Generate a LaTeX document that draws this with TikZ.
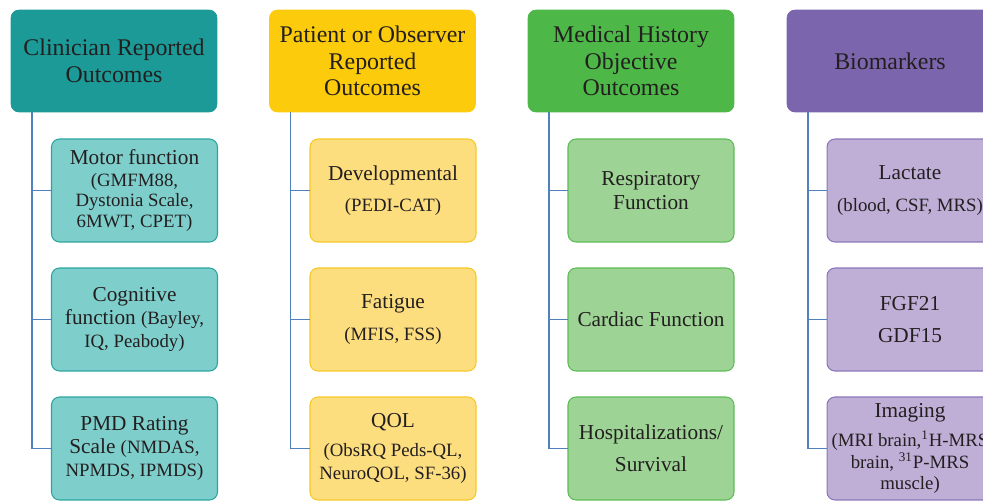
\documentclass[tikz,border=0pt]{standalone}
\usepackage{fontspec}
\newfontfamily\diagfont{Liberation Serif}

% colours of the four columns
\definecolor{tealHdr}{HTML}{1B9A97}
\definecolor{tealBox}{HTML}{7ECFCC}
\definecolor{tealLine}{HTML}{2BA4A0}
\definecolor{yellowHdr}{HTML}{FCCB0B}
\definecolor{yellowBox}{HTML}{FDDE7E}
\definecolor{yellowLine}{HTML}{F7C824}
\definecolor{greenHdr}{HTML}{4DB848}
\definecolor{greenBox}{HTML}{9DD394}
\definecolor{greenLine}{HTML}{5DBB56}
\definecolor{purpleHdr}{HTML}{7B66AD}
\definecolor{purpleBox}{HTML}{BFAFD7}
\definecolor{purpleLine}{HTML}{8A76B7}
\definecolor{connBlue}{HTML}{4F81BD}
\definecolor{inkDark}{HTML}{231F20}

% smaller text for the scales in brackets
\newcommand{\sml}[1]{{\fontsize{10.7}{12}\selectfont #1}}

\tikzset{
  hdr/.style={rounded corners=0.16cm, inner sep=0pt, outer sep=0pt,
    minimum width=4.12cm, minimum height=2.04cm, align=center,
    text=inkDark, font=\diagfont\fontsize{13.6}{15.2}\selectfont},
  sub/.style={rounded corners=0.16cm, inner sep=0pt, outer sep=0pt,
    line width=0.6pt, minimum width=3.32cm, minimum height=2.06cm,
    align=center, text=inkDark, font=\diagfont\fontsize{12.1}{13}\selectfont},
  conn/.style={draw=connBlue, line width=1pt},
}

\begin{document}
\begin{tikzpicture}[x=0.02cm,y=-0.02cm]
    % Frame: pixel grid of the reference, right and lower edge cut off
    \useasboundingbox (0,0) rectangle (983,500);
    \clip (0,0) rectangle (983,500);

    % Headers:
    \node [hdr, fill=tealHdr, draw=tealHdr]     (hdrA) at (114,61)   {Clinician Reported\\Outcomes};
    \node [hdr, fill=yellowHdr, draw=yellowHdr] (hdrB) at (372.5,61) {Patient or Observer\\Reported\\Outcomes};
    \node [hdr, fill=greenHdr, draw=greenHdr]   (hdrC) at (631,61)   {Medical History\\Objective\\Outcomes};
    \node [hdr, fill=purpleHdr, draw=purpleHdr] (hdrD) at (890,61)   {Biomarkers};

    % Column A: clinician reported
    \node [sub, fill=tealBox, draw=tealLine] (subA1) at (134.5,190.5)
        {Motor function\\[-0.5pt]\sml{(GMFM88,}\\[-1.4pt]\sml{Dystonia Scale,}\\[-1.4pt]\sml{6MWT, CPET)}};
    \node [sub, fill=tealBox, draw=tealLine] (subA2) at (134.5,319.5)
        {Cognitive\\function \sml{(Bayley,}\\\sml{IQ, Peabody)}};
    \node [sub, fill=tealBox, draw=tealLine] (subA3) at (134.5,448.5)
        {PMD Rating\\Scale \sml{(NMDAS,}\\\sml{NPMDS, IPMDS)}};

    % Column B: patient or observer reported
    \node [sub, fill=yellowBox, draw=yellowLine] (subB1) at (393,190.5)
        {Developmental\\[5pt]\sml{(PEDI-CAT)}};
    \node [sub, fill=yellowBox, draw=yellowLine] (subB2) at (393,319.5)
        {Fatigue\\[5pt]\sml{(MFIS, FSS)}};
    \node [sub, fill=yellowBox, draw=yellowLine] (subB3) at (393,448.5)
        {QOL\\[3.4pt]\sml{(ObsRQ Peds-QL,}\\[0.5pt]\sml{NeuroQOL, SF-36)}};

    % Column C: medical history
    \node [sub, fill=greenBox, draw=greenLine] (subC1) at (651,190.5)
        {Respiratory\\[0.6pt]Function};
    \node [sub, fill=greenBox, draw=greenLine] (subC2) at (651,319.5)
        {Cardiac Function};
    \node [sub, fill=greenBox, draw=greenLine] (subC3) at (651,448.5)
        {Hospitalizations/\\[5pt]Survival};

    % Column D: biomarkers
    \node [sub, fill=purpleBox, draw=purpleLine] (subD1) at (910,190.5)
        {Lactate\\[5pt]\sml{(blood, CSF, MRS)}};
    \node [sub, fill=purpleBox, draw=purpleLine] (subD2) at (910,319.5)
        {FGF21\\[5.7pt]GDF15};
    \node [sub, fill=purpleBox, draw=purpleLine] (subD3) at (910,448.5)
        {Imaging\\[3.5pt]\sml{(MRI brain,\textsuperscript{1}H-MRS}\\[0pt]\sml{brain, \textsuperscript{31}P-MRS}\\[-1pt]\sml{muscle)}};

    % Connectors: down from each header, then right into the box
    \foreach \col in {A,B,C,D} {
        \foreach \row in {1,2,3} {
            \draw [conn] ([xshift=0.42cm]hdr\col.south west) |- (sub\col\row.west);
        }
    }
\end{tikzpicture}
\end{document}
